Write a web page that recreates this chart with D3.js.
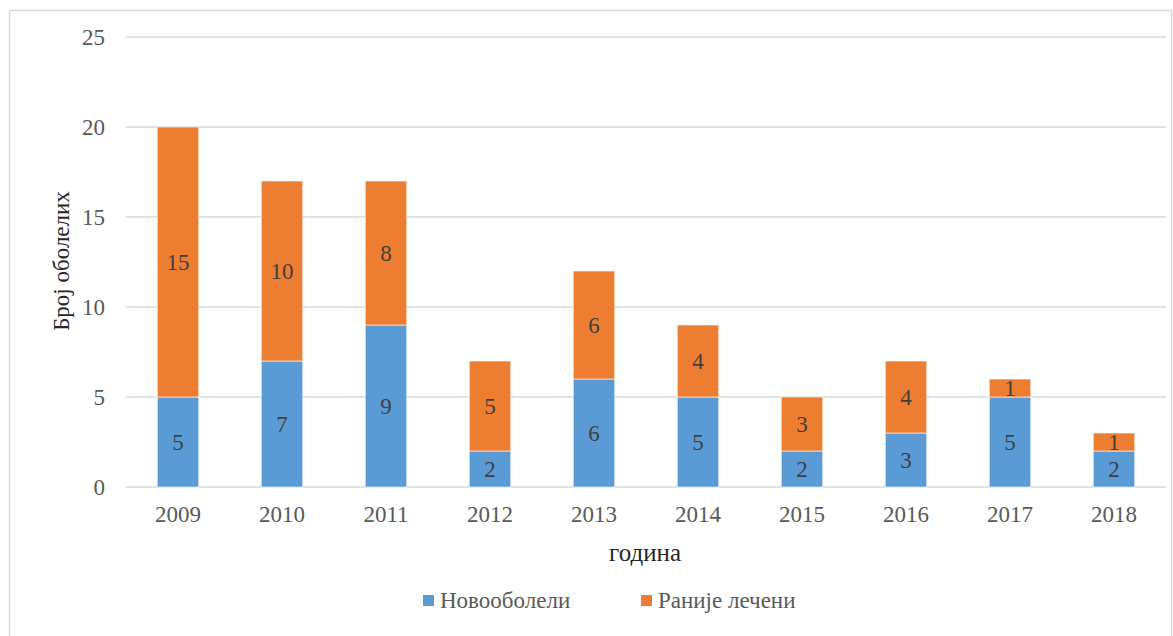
<!DOCTYPE html>
<html>
<head>
<meta charset="utf-8">
<script src="https://cdn.jsdelivr.net/npm/d3@7"></script>
<style>
  html, body { margin: 0; padding: 0; background: #fff; }
</style>
</head>
<body>
<svg id="chart" width="1173" height="636"></svg>
<script>
// Patients per year, split into newly diagnosed and previously treated
const years = ["2009", "2010", "2011", "2012", "2013", "2014", "2015", "2016", "2017", "2018"];
const newCases = [5, 7, 9, 2, 6, 5, 2, 3, 5, 2];
const prevTreated = [15, 10, 8, 5, 6, 4, 3, 4, 1, 1];
const yTicks = [0, 5, 10, 15, 20, 25];
const seriesNames = ["Новооболели", "Раније лечени"];
const seriesColors = ["#5B9BD5", "#ED7D31"];
const xTitle = "година";
const yTitle = "Број оболелих";

const FONT = "'Liberation Serif', 'Times New Roman', serif";
const svg = d3.select("#chart");
const W = 1173, H = 636;

// outer frame
svg.append("rect")
  .attr("x", 9.5).attr("y", 10.5)
  .attr("width", W - 11).attr("height", H - 4)
  .attr("fill", "#fff").attr("stroke", "#d9d9d9").attr("stroke-width", 1.5);

const plot = { left: 126, right: 1166, top: 37, bottom: 487 };

const x = d3.scaleBand().domain(years).range([plot.left, plot.right]).paddingInner(0.6).paddingOuter(0.3);
const y = d3.scaleLinear().domain([0, 25]).range([plot.bottom, plot.top]);

// gridlines
svg.append("g")
  .selectAll("line").data(yTicks).join("line")
  .attr("x1", plot.left).attr("x2", plot.right)
  .attr("y1", d => y(d)).attr("y2", d => y(d))
  .attr("stroke", "#d9d9d9").attr("stroke-width", 1.5);

// y tick labels
const yAxis = d3.axisLeft(y).tickValues(yTicks).tickSize(0).tickPadding(0);
const gy = svg.append("g").attr("transform", `translate(${plot.left - 21},0)`).call(yAxis);
gy.select(".domain").remove();
gy.selectAll("text")
  .style("font-family", FONT).style("font-size", "23px")
  .attr("fill", "#595959").attr("dy", "0.34em");

// x tick labels
const xAxis = d3.axisBottom(x).tickSize(0).tickPadding(0);
const gx = svg.append("g").attr("transform", `translate(0,${plot.bottom + 35})`).call(xAxis);
gx.select(".domain").remove();
gx.selectAll("text")
  .style("font-family", FONT).style("font-size", "23px")
  .attr("fill", "#595959").attr("dy", 0);

// stacked data
const rows = years.map((yr, i) => ({ year: yr, a: newCases[i], b: prevTreated[i] }));
const stack = d3.stack().keys(["a", "b"])(rows);

const layers = svg.append("g").selectAll("g").data(stack).join("g")
  .attr("fill", (d, i) => seriesColors[i]);

layers.selectAll("rect").data(d => d).join("rect")
  .attr("x", d => x(d.data.year))
  .attr("width", x.bandwidth())
  .attr("y", d => y(d[1]))
  .attr("height", d => y(d[0]) - y(d[1]))
  .attr("stroke", "#ffffff").attr("stroke-width", 0.6);

// value labels centred in each segment
layers.selectAll("text").data(d => d).join("text")
  .attr("x", d => x(d.data.year) + x.bandwidth() / 2)
  .attr("y", d => (y(d[0]) + y(d[1])) / 2)
  .attr("dy", "0.35em")
  .attr("text-anchor", "middle")
  .style("font-family", FONT).style("font-size", "23px")
  .attr("fill", "#404040")
  .text(d => d[1] - d[0]);

// axis titles
svg.append("text")
  .attr("x", (plot.left + plot.right) / 2 - 1).attr("y", 561)
  .attr("text-anchor", "middle")
  .style("font-family", FONT).style("font-size", "25px")
  .attr("fill", "#262626")
  .text(xTitle);

svg.append("text")
  .attr("transform", "translate(69,261) rotate(-90)")
  .attr("text-anchor", "middle")
  .style("font-family", FONT).style("font-size", "23px")
  .attr("fill", "#262626")
  .text(yTitle);

// legend
const legendX = [423, 641];
const lg = svg.append("g").selectAll("g").data(seriesNames).join("g")
  .attr("transform", (d, i) => `translate(${legendX[i]},595)`);
lg.append("rect").attr("width", 11).attr("height", 11)
  .attr("fill", (d, i) => seriesColors[i]);
lg.append("text").attr("x", 17).attr("y", 13)
  .style("font-family", FONT).style("font-size", "23px")
  .attr("fill", "#595959")
  .text(d => d);
</script>
</body>
</html>
